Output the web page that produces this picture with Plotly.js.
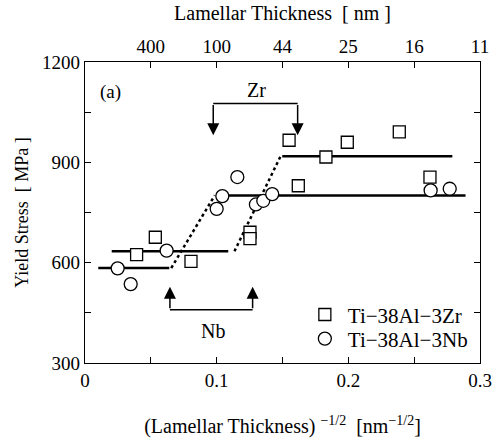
<!DOCTYPE html>
<html>
<head>
<meta charset="utf-8">
<script src="https://cdn.plot.ly/plotly-3.0.1.min.js"></script>
<style>html,body{margin:0;padding:0;background:#fff;}#chart{width:493px;height:438px;}</style>
</head>
<body>
<div id="chart"></div>
<script>
// Ti-38Al-3Zr (squares)
const zrX = [0.0392, 0.0534, 0.0805, 0.1253, 0.1253, 0.155, 0.162, 0.183, 0.1992, 0.2387, 0.262];
const zrY = [624, 676, 604, 691, 672, 966, 830, 916, 960, 991, 856];
// Ti-38Al-3Nb (circles)
const nbX = [0.0248, 0.0347, 0.062, 0.100, 0.1043, 0.1157, 0.1298, 0.1354, 0.1422, 0.2625, 0.277];
const nbY = [583, 536, 636, 761, 799, 856, 774, 785, 805, 816, 821];
// level lines
const zrLowX = [0.0203, 0.1088], zrLowY = [634, 634];
const zrHighX = [0.1498, 0.279], zrHighY = [918, 918];
const nbLowX = [0.0101, 0.064], nbLowY = [584, 584];
const nbHighX = [0.103, 0.289], nbHighY = [801, 801];
// transition (dotted)
const zrTransX = [0.1135, 0.1485], zrTransY = [634, 918];
const nbTransX = [0.0655, 0.0985], nbTransY = [584, 801];
// brackets
const zrBracketX = [0.0974, 0.1615], zrBracketY = 1076, zrTipY = 981;
const nbBracketX = [0.0645, 0.1273], nbBracketY = 459, nbTipY = 528;
// ticks
const xTicks = [0, 0.1, 0.2, 0.3];
const xTickText = ['0', '0.1', '0.2', '0.3'];
const topTickPos = [0.05, 0.10, 0.15, 0.20, 0.25, 0.30];
const topTickText = ['400', '100', '44', '25', '16', '11'];
const yTicks = [300, 600, 900, 1200];

const FONT = '"Liberation Serif", "Times New Roman", serif';
const lineStyle = {color: '#000', width: 2.5};
const dotStyle = {color: '#000', width: 2.5, dash: '3px,3px'};

const traces = [
  {x: zrLowX, y: zrLowY, mode: 'lines', line: lineStyle, showlegend: false, hoverinfo: 'skip'},
  {x: zrHighX, y: zrHighY, mode: 'lines', line: lineStyle, showlegend: false, hoverinfo: 'skip'},
  {x: nbLowX, y: nbLowY, mode: 'lines', line: lineStyle, showlegend: false, hoverinfo: 'skip'},
  {x: nbHighX, y: nbHighY, mode: 'lines', line: lineStyle, showlegend: false, hoverinfo: 'skip'},
  {x: zrTransX, y: zrTransY, mode: 'lines', line: dotStyle, showlegend: false, hoverinfo: 'skip'},
  {x: nbTransX, y: nbTransY, mode: 'lines', line: dotStyle, showlegend: false, hoverinfo: 'skip'},
  {x: zrBracketX, y: [zrBracketY, zrBracketY], mode: 'lines', line: {color: '#000', width: 1.5}, showlegend: false, hoverinfo: 'skip'},
  {x: nbBracketX, y: [nbBracketY, nbBracketY], mode: 'lines', line: {color: '#000', width: 1.5}, showlegend: false, hoverinfo: 'skip'},
  {x: zrX, y: zrY, mode: 'markers', name: 'Ti\u221238Al\u22123Zr', legend: 'legend',
   marker: {symbol: 'square', size: 12, color: '#fff', line: {color: '#000', width: 1.3}}},
  {x: nbX, y: nbY, mode: 'markers', name: 'Ti\u221238Al\u22123Nb', legend: 'legend2',
   marker: {symbol: 'circle', size: 13, color: '#fff', line: {color: '#000', width: 1.3}}},
  {x: [], y: [], xaxis: 'x2', showlegend: false, hoverinfo: 'skip'}
];

function arrow(x, tipY, baseY) {
  return {x: x, y: tipY, ax: x, ay: baseY, xref: 'x', yref: 'y', axref: 'x', ayref: 'y',
    text: '', showarrow: true, arrowhead: 2, arrowsize: 1.6, arrowwidth: 1.5, arrowcolor: '#000', standoff: 0, startstandoff: 0};
}

const annotations = [
  arrow(zrBracketX[0], zrTipY, zrBracketY),
  arrow(zrBracketX[1], zrTipY, zrBracketY),
  arrow(nbBracketX[0], nbTipY, nbBracketY),
  arrow(nbBracketX[1], nbTipY, nbBracketY),
  {x: 0.13, y: 1116, xref: 'x', yref: 'y', text: 'Zr', showarrow: false, font: {family: FONT, size: 20, color: '#000'}},
  {x: 0.097, y: 396, xref: 'x', yref: 'y', text: 'Nb', showarrow: false, font: {family: FONT, size: 20, color: '#000'}},
  {x: 0.019, y: 1111, xref: 'x', yref: 'y', text: '(a)', showarrow: false, font: {family: FONT, size: 19, color: '#000'}}
];

const axisCommon = {showline: true, linecolor: '#000', linewidth: 1.2, ticks: 'inside', ticklen: 6, tickwidth: 1.2, tickcolor: '#000',
  showgrid: false, zeroline: false, tickfont: {family: FONT, size: 19, color: '#000'}};

const legendCommon = {xanchor: 'left', yanchor: 'middle', bgcolor: 'rgba(0,0,0,0)',
  font: {family: FONT, size: 21, color: '#000'}, itemwidth: 36};

const layout = {
  width: 493, height: 438,
  margin: {l: 85, r: 13, t: 62, b: 75},
  paper_bgcolor: '#fff', plot_bgcolor: '#fff',
  font: {family: FONT, color: '#000'},
  showlegend: true,
  legend: Object.assign({}, legendCommon, {x: 0.549, y: 0.16}),
  legend2: Object.assign({}, legendCommon, {x: 0.549, y: 0.08}),
  xaxis: Object.assign({}, axisCommon, {range: [0, 0.3], tickvals: xTicks, ticktext: xTickText,
    minor: {dtick: 0.05, tick0: 0, ticks: 'inside', ticklen: 6, tickwidth: 1.2, tickcolor: '#000'},
    title: {text: '(Lamellar Thickness) <sup>\u22121/2</sup>  [nm<sup>\u22121/2</sup>]', font: {family: FONT, size: 20, color: '#000'}, standoff: 29}}),
  xaxis2: Object.assign({}, axisCommon, {range: [0, 0.3], overlaying: 'x', side: 'top', anchor: 'y',
    tickvals: topTickPos, ticktext: topTickText,
    title: {text: 'Lamellar Thickness  [ nm ]', font: {family: FONT, size: 20, color: '#000'}, standoff: 10}}),
  yaxis: Object.assign({}, axisCommon, {range: [300, 1200], tickvals: yTicks, mirror: 'ticks',
    minor: {dtick: 150, tick0: 300, ticks: 'inside', ticklen: 6, tickwidth: 1.2, tickcolor: '#000'},
    title: {text: 'Yield Stress  [ MPa ]', font: {family: FONT, size: 18, color: '#000'}, standoff: 8}}),
  annotations: annotations
};

Plotly.newPlot('chart', traces, layout, {staticPlot: true, displayModeBar: false});
</script>
</body>
</html>
